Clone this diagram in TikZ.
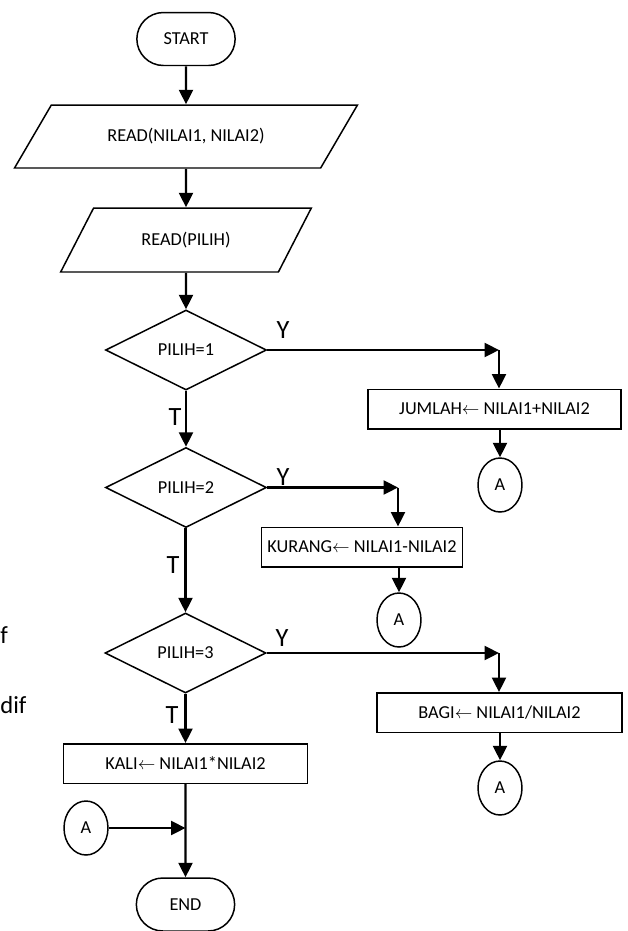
\documentclass[tikz,border=0pt]{standalone}
\usepackage{fontspec}
\setmainfont{Carlito}
\usetikzlibrary{shapes.geometric, shapes.misc}
\usetikzlibrary{arrows.meta, positioning}
\tikzstyle{term} = [rounded rectangle, draw, line width=0.85pt, minimum width=2.2cm, minimum height=1.06cm, font=\fontsize{10.4}{12}\selectfont]
\tikzstyle{io} = [trapezium, trapezium stretches=true, draw, line width=0.85pt, inner sep=0pt, font=\fontsize{10.4}{12}\selectfont]
\tikzstyle{decision} = [diamond, aspect=2, draw, line width=0.85pt, inner sep=0pt, minimum width=3.22cm, minimum height=1.6cm, font=\fontsize{10.4}{12}\selectfont]
\tikzstyle{process} = [rectangle, draw, line width=0.85pt, minimum height=0.79cm, font=\fontsize{10.4}{12}\selectfont]
\tikzstyle{conn} = [ellipse, draw, line width=0.85pt, inner sep=0pt, minimum width=0.88cm, minimum height=1.08cm, font=\fontsize{10.4}{12}\selectfont]
\tikzstyle{flow} = [line width=1.4pt, -{Triangle[length=0.29cm,width=0.28cm]}]
\tikzstyle{yt} = [inner sep=0pt, font=\fontsize{15}{18}\selectfont]
\tikzstyle{stray} = [inner sep=0pt, anchor=base west, font=\fontsize{14}{17}\selectfont]

\begin{document}
\begin{tikzpicture}[x=0.02cm, y=-0.02cm]
      \useasboundingbox (0,0) rectangle (628,931);
      % main column
      \node (start) [term] at (186,39) {START};
      \node (read1) [io, trapezium left angle=36.5, trapezium right angle=143.5, minimum width=6.86cm, minimum height=1.26cm] at (186,136.5) {READ(NILAI1, NILAI2)};
      \node (read2) [io, trapezium left angle=45, trapezium right angle=135, minimum width=5.02cm, minimum height=1.28cm] at (186,240) {READ(PILIH)};
      \node (d1) [decision] at (186,350) {PILIH=1};
      \node (d2) [decision] at (186,487.5) {PILIH=2};
      \node (d3) [decision] at (185.5,653) {PILIH=3};
      \node (kali) [process, minimum width=4.88cm] at (185.5,763.5) {KALI$\leftarrow$ NILAI1*NILAI2};
      \node (end) [term] at (185.5,904.5) {END};
      \node (a4) [conn] at (86,828) {A};
      % branches
      \node (jumlah) [process, minimum width=5.06cm] at (494.5,409) {JUMLAH$\leftarrow$ NILAI1+NILAI2};
      \node (a1) [conn] at (500,485) {A};
      \node (kurang) [process, minimum width=3.54cm] at (362,547) {KURANG$\leftarrow$ NILAI1-NILAI2};
      \node (a2) [conn] at (399,620) {A};
      \node (bagi) [process, minimum width=4.9cm] at (499.5,712.5) {BAGI$\leftarrow$ NILAI1/NILAI2};
      \node (a3) [conn] at (500,788) {A};
      \coordinate (c1) at (499,350);
      \coordinate (c2) at (398,487.5);
      \coordinate (c3) at (499,653);
      \coordinate (j) at (kali.south |- a4.east);
      % labels
      \node (y1) [yt] at (283,330) {Y};
      \node (y2) [yt] at (283,477) {Y};
      \node (y3) [yt] at (282,638) {Y};
      \node (t1) [yt] at (175,417) {T};
      \node (t2) [yt] at (173,565) {T};
      \node (t3) [yt] at (172,715) {T};
      \node (s1) [stray] at (0,643) {f};
      \node (s2) [stray] at (0,713) {dif};
      \draw [flow] (start) -- (read1);
      \draw [flow] (read1) -- (read2);
      \draw [flow] (read2) -- (d1);
      \draw [flow] (d1) -- (d2);
      \draw [flow] (d2.south -| d3.north) -- (d3.north);
      \draw [flow] (d3.south) -- (kali.north);
      \draw [flow] (kali) -- (end);
      \draw [flow] (a4) -- (j);
      \draw [flow] (d1.east) -- (c1);
      \draw [flow] (c1) -- (c1 |- jumlah.north);
      \draw [flow] (a1 |- jumlah.south) -- (a1);
      \draw [flow] (d2.east) -- (c2);
      \draw [flow] (c2) -- (c2 |- kurang.north);
      \draw [flow] (a2 |- kurang.south) -- (a2);
      \draw [flow] (d3.east) -- (c3);
      \draw [flow] (c3) -- (c3 |- bagi.north);
      \draw [flow] (a3 |- bagi.south) -- (a3);
    \end{tikzpicture}
\end{document}
